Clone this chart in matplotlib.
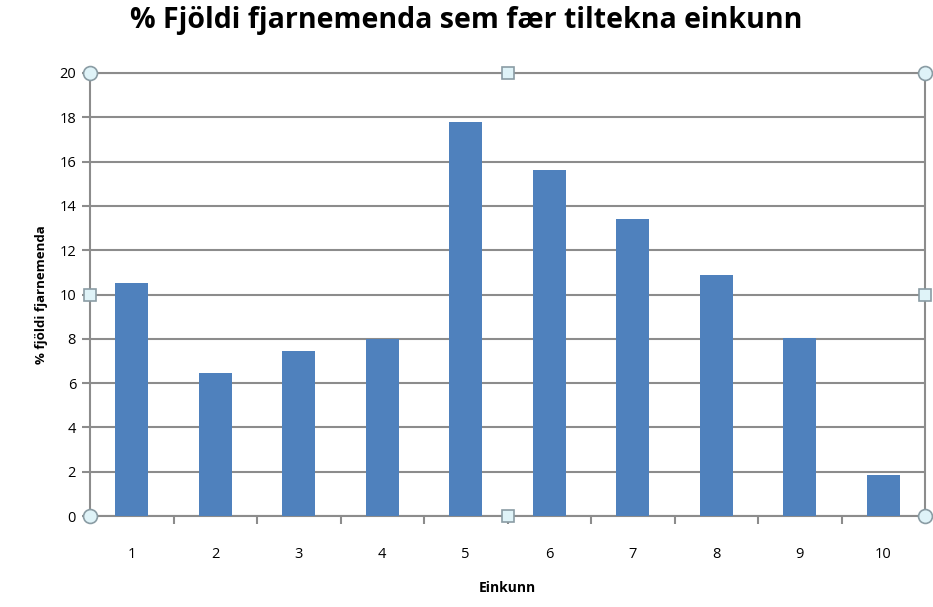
import matplotlib.pyplot as plt
from matplotlib.ticker import FixedLocator, NullFormatter

# Gögn lesin af myndinni
einkunnir = ["1", "2", "3", "4", "5", "6", "7", "8", "9", "10"]
hlutfall = [10.5, 6.45, 7.45, 8.0, 17.8, 15.6, 13.4, 10.9, 8.05, 1.85]

BAR = "#4f81bd"
GRID = "#8c8c8c"

plt.rcParams["font.family"] = ["Open Sans", "DejaVu Sans"]

fig = plt.figure(figsize=(9.33, 6.07), dpi=100)
ax = fig.add_axes([90 / 933, 91 / 607, 835 / 933, 443 / 607])

x = list(range(len(einkunnir)))
ax.bar(x, hlutfall, width=0.4, color=BAR, zorder=3)

ax.set_xlim(-0.5, len(einkunnir) - 0.5)
ax.set_ylim(0, 20)
ax.set_yticks(range(0, 21, 2))
ax.set_xticks(x)
ax.set_xticklabels(einkunnir)
ax.tick_params(axis="x", length=0, pad=22, labelsize=10.5)
ax.tick_params(axis="y", length=6, width=1.5, color=GRID, pad=4, labelsize=10.5)
ax.xaxis.set_minor_locator(FixedLocator([i + 0.5 for i in range(len(einkunnir) - 1)]))
ax.xaxis.set_minor_formatter(NullFormatter())
ax.tick_params(axis="x", which="minor", length=6, width=1.5, color=GRID)

ax.grid(axis="y", color=GRID, linewidth=1.5, zorder=0)
for s in ax.spines.values():
    s.set_color(GRID)
    s.set_linewidth(1.5)

ax.set_ylabel("% fjöldi fjarnemenda", fontsize=9.5, fontweight="bold", labelpad=8)
ax.set_xlabel("Einkunn", fontsize=10, fontweight="bold", labelpad=14)
fig.suptitle("% Fjöldi fjarnemenda sem fær tiltekna einkunn", fontsize=20.5,
             fontweight="bold", y=0.99)

# valhandföng Excel-ramma
hx = [0, 0.5, 1, 0, 1, 0, 0.5, 1]
hy = [1, 1, 1, 0.5, 0.5, 0, 0, 0]
hm = ["o", "s", "o", "s", "s", "o", "s", "o"]
for xx, yy, m in zip(hx, hy, hm):
    ax.plot(xx, yy, marker=m, markersize=10 if m == "o" else 8,
            markerfacecolor="#dff3f8", markeredgecolor="#8a9ca4",
            markeredgewidth=1.2, transform=ax.transAxes, clip_on=False, zorder=5)

fig.savefig("out.png", dpi=100)
